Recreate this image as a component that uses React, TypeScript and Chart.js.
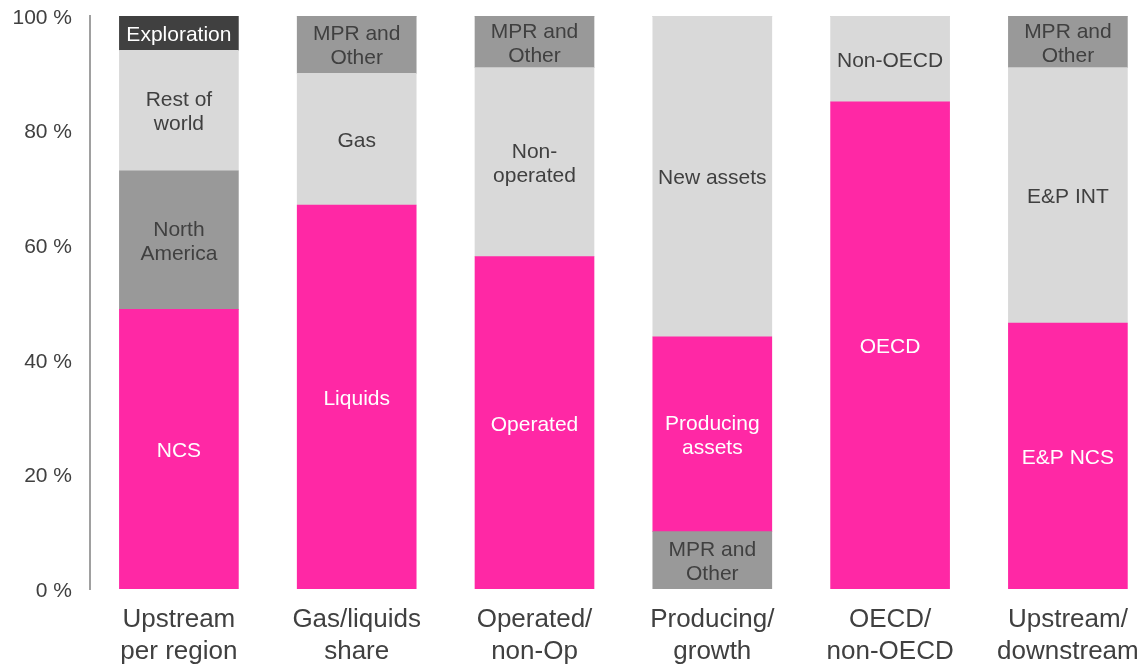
import React, { useEffect, useRef } from "react";
import { Chart, registerables } from "chart.js";

Chart.register(...registerables);

const categories: string[][] = [
  ["Upstream", "per region"],
  ["Gas/liquids", "share"],
  ["Operated/", "non-Op"],
  ["Producing/", "growth"],
  ["OECD/", "non-OECD"],
  ["Upstream/", "downstream"],
];

const yTicks = [0, 20, 40, 60, 80, 100];

// stack levels, bottom to top
const level0Values = [48.8, 67, 58, 10, 85, 46.4];
const level1Values = [24.2, 23, 33, 34, 15, 44.6];
const level2Values = [21, 10, 9, 56, 0, 9];
const level3Values = [6, 0, 0, 0, 0, 0];

const level0Labels = ["NCS", "Liquids", "Operated", "MPR and\nOther", "OECD", "E&P NCS"];
const level1Labels = ["North\nAmerica", "Gas", "Non-\noperated", "Producing\nassets", "Non-OECD", "E&P INT"];
const level2Labels = ["Rest of\nworld", "MPR and\nOther", "MPR and\nOther", "New assets", "", "MPR and\nOther"];
const level3Labels = ["Exploration", "", "", "", "", ""];

const PINK = "#FF28A5";
const DARK = "#404040";
const MID = "#999999";
const LIGHT = "#D9D9D9";

const level0Colors = [PINK, PINK, PINK, MID, PINK, PINK];
const level1Colors = [MID, LIGHT, LIGHT, PINK, LIGHT, LIGHT];
const level2Colors = [LIGHT, MID, MID, LIGHT, LIGHT, MID];
const level3Colors = [DARK, DARK, DARK, DARK, DARK, DARK];

const FONT = "'Liberation Sans', Arial, sans-serif";

const segmentLabelPlugin = {
  id: "segmentLabels",
  afterDatasetsDraw(chart: any) {
    const ctx = chart.ctx;
    ctx.save();
    ctx.font = `21px ${FONT}`;
    ctx.textAlign = "center";
    ctx.textBaseline = "middle";
    chart.data.datasets.forEach((ds: any, di: number) => {
      const meta = chart.getDatasetMeta(di);
      meta.data.forEach((el: any, i: number) => {
        const label: string = ds.segLabels[i];
        const v = ds.data[i].y;
        if (!label || !v) return;
        const bg = ds.backgroundColor[i];
        ctx.fillStyle = bg === PINK || bg === DARK ? "#FFFFFF" : "#404040";
        const lines = label.split("\n");
        const lh = 24;
        const cy = (el.y + el.base) / 2 + 2;
        const start = cy - ((lines.length - 1) * lh) / 2;
        lines.forEach((ln, k) => ctx.fillText(ln, el.x, start + k * lh));
      });
    });
    ctx.restore();
  },
};

export default function App() {
  const ref = useRef<HTMLCanvasElement>(null);
  useEffect(() => {
    if (!ref.current) return;
    const mk = (values: number[], labels: string[], colors: string[]) => ({
      data: values.map((y, x) => ({ x, y })),
      segLabels: labels,
      backgroundColor: colors,
      borderWidth: 0,
      stack: "all",
      barThickness: 119,
    });
    const chart = new Chart(ref.current, {
      type: "bar",
      data: {
        datasets: [
          mk(level0Values, level0Labels, level0Colors),
          mk(level1Values, level1Labels, level1Colors),
          mk(level2Values, level2Labels, level2Colors),
          mk(level3Values, level3Labels, level3Colors),
        ] as any,
      },
      options: {
        animation: false,
        responsive: true,
        maintainAspectRatio: false,
        layout: { padding: { top: 16, left: 0, right: 0, bottom: 0 } },
        plugins: { legend: { display: false }, tooltip: { enabled: false } },
        scales: {
          x: {
            type: "linear",
            offset: false,
            min: -0.5,
            max: -0.5 + (1142 - 90) / 177.8,
            grid: { display: false, drawTicks: false },
            border: { display: false },
            afterBuildTicks: (scale: any) => {
              scale.ticks = categories.map((_, i) => ({ value: i }));
            },
            afterFit: (scale: any) => {
              scale.height = 80;
              scale.paddingLeft = 0;
              scale.paddingRight = 0;
              scale.paddingTop = 0;
              scale.paddingBottom = 0;
            },
            ticks: {
              autoSkip: false,
              maxRotation: 0,
              padding: 15,
              color: "#404040",
              font: { family: FONT, size: 26, lineHeight: 1.23 },
              callback: (v: any) => categories[v as number] ?? "",
            },
          },
          y: {
            stacked: true,
            min: 0,
            max: 100,
            grid: { display: false, drawTicks: false },
            border: { display: true, color: "#A0A0A0", width: 2 },
            afterBuildTicks: (scale: any) => {
              scale.ticks = yTicks.map((v) => ({ value: v }));
            },
            afterFit: (scale: any) => {
              scale.width = 90;
              scale.paddingLeft = 0;
              scale.paddingRight = 0;
              scale.paddingTop = 0;
              scale.paddingBottom = 0;
            },
            ticks: {
              padding: 18,
              labelOffset: 2,
              color: "#404040",
              font: { family: FONT, size: 21 },
              callback: (v: any) => `${v} %`,
            },
          },
        },
      },
      plugins: [segmentLabelPlugin],
    });
    return () => chart.destroy();
  }, []);
  return (
    <div style={{ position: "absolute", left: 0, top: 0, width: 1142, height: 669 }}>
      <canvas ref={ref} />
    </div>
  );
}
